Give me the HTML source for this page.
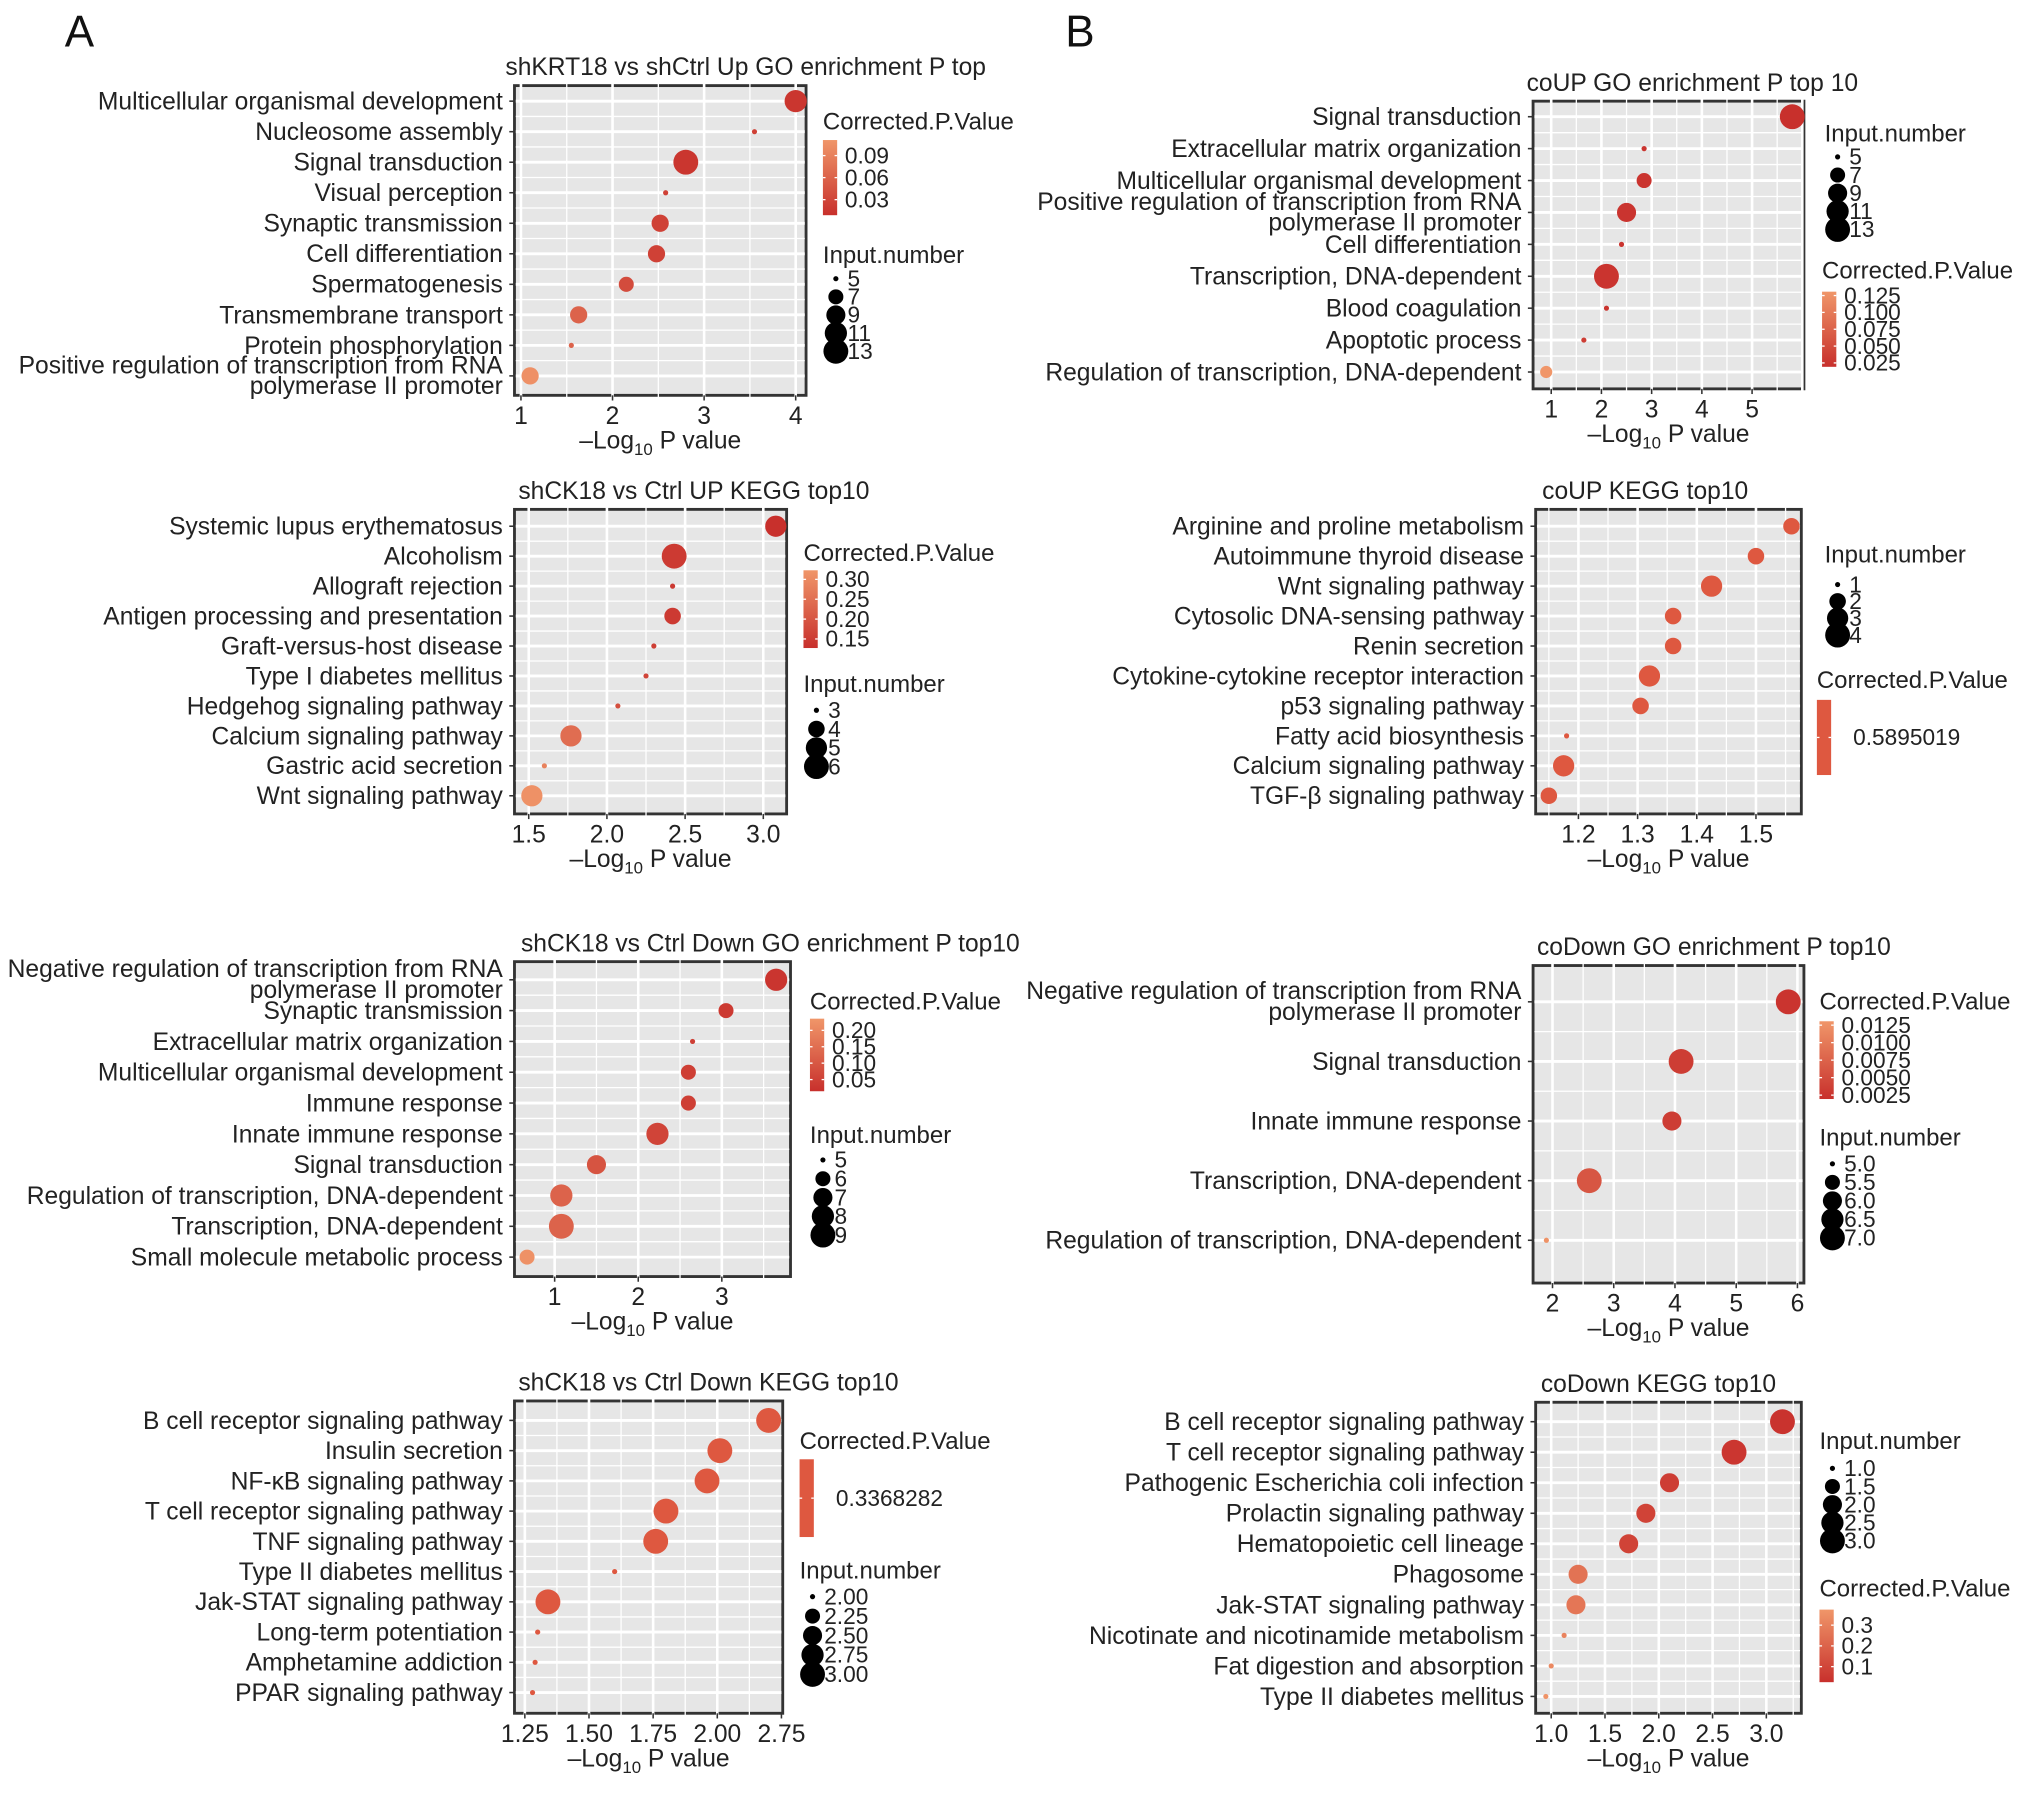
<!DOCTYPE html>
<html><head><meta charset="utf-8">
<style>
html,body{margin:0;padding:0;background:#fff;}
svg{display:block;font-family:"Liberation Sans",Arial,sans-serif;}
</style></head>
<body>
<svg id="fig" width="2032" height="1795" viewBox="0 0 1568 1385" xmlns="http://www.w3.org/2000/svg">
<text x="50" y="36" font-size="34" fill="#111">A</text>
<text x="822" y="36" font-size="34" fill="#111">B</text>
</svg>
<script>
// ---------- DATA ----------
const a1Terms = ["Multicellular organismal development","Nucleosome assembly","Signal transduction","Visual perception","Synaptic transmission","Cell differentiation","Spermatogenesis","Transmembrane transport","Protein phosphorylation","Positive regulation of transcription from RNA|polymerase II promoter"];
const a1X = [4.0,3.55,2.8,2.58,2.52,2.48,2.15,1.63,1.55,1.1];
const a1N = [11,5,13,5,8,8,7,8,5,8];
const a1P = [0.02,0.03,0.02,0.03,0.03,0.03,0.04,0.06,0.06,0.1];

const a2Terms = ["Systemic lupus erythematosus","Alcoholism","Allograft rejection","Antigen processing and presentation","Graft-versus-host disease","Type I diabetes mellitus","Hedgehog signaling pathway","Calcium signaling pathway","Gastric acid secretion","Wnt signaling pathway"];
const a2X = [3.08,2.43,2.42,2.42,2.3,2.25,2.07,1.77,1.6,1.52];
const a2N = [5,6,3,4,3,3,3,5,3,5];
const a2P = [0.12,0.14,0.14,0.14,0.15,0.16,0.18,0.24,0.28,0.31];

const a3Terms = ["Negative regulation of transcription from RNA|polymerase II promoter","Synaptic transmission","Extracellular matrix organization","Multicellular organismal development","Immune response","Innate immune response","Signal transduction","Regulation of transcription, DNA-dependent","Transcription, DNA-dependent","Small molecule metabolic process"];
const a3X = [3.65,3.05,2.65,2.6,2.6,2.23,1.5,1.08,1.08,0.67];
const a3N = [8,6,5,6,6,8,7,8,9,6];
const a3P = [0.03,0.04,0.05,0.05,0.05,0.06,0.09,0.12,0.12,0.21];

const a4Terms = ["B cell receptor signaling pathway","Insulin secretion","NF-\u03baB signaling pathway","T cell receptor signaling pathway","TNF signaling pathway","Type II diabetes mellitus","Jak-STAT signaling pathway","Long-term potentiation","Amphetamine addiction","PPAR signaling pathway"];
const a4X = [2.2,2.01,1.96,1.8,1.76,1.6,1.34,1.3,1.29,1.28];
const a4N = [3,3,3,3,3,2,3,2,2,2];
const a4P = [0.3368,0.3368,0.3368,0.3368,0.3368,0.3368,0.3368,0.3368,0.3368,0.3368];

const b1Terms = ["Signal transduction","Extracellular matrix organization","Multicellular organismal development","Positive regulation of transcription from RNA|polymerase II promoter","Cell differentiation","Transcription, DNA-dependent","Blood coagulation","Apoptotic process","Regulation of transcription, DNA-dependent"];
const b1X = [5.8,2.85,2.85,2.5,2.4,2.1,2.1,1.65,0.9];
const b1N = [13,5,7,9,5,13,5,5,6];
const b1P = [0.01,0.02,0.02,0.02,0.02,0.02,0.02,0.03,0.13];

const b2Terms = ["Arginine and proline metabolism","Autoimmune thyroid disease","Wnt signaling pathway","Cytosolic DNA-sensing pathway","Renin secretion","Cytokine-cytokine receptor interaction","p53 signaling pathway","Fatty acid biosynthesis","Calcium signaling pathway","TGF-\u03b2 signaling pathway"];
const b2X = [1.56,1.5,1.425,1.36,1.36,1.32,1.305,1.18,1.175,1.15];
const b2N = [2,2,3,2,2,3,2,1,3,2];
const b2P = [0.5895,0.5895,0.5895,0.5895,0.5895,0.5895,0.5895,0.5895,0.5895,0.5895];

const b3Terms = ["Negative regulation of transcription from RNA|polymerase II promoter","Signal transduction","Innate immune response","Transcription, DNA-dependent","Regulation of transcription, DNA-dependent"];
const b3X = [5.85,4.1,3.95,2.6,1.9];
const b3N = [7,7,6,7,5];
const b3P = [0.002,0.003,0.003,0.006,0.013];

const b4Terms = ["B cell receptor signaling pathway","T cell receptor signaling pathway","Pathogenic Escherichia coli infection","Prolactin signaling pathway","Hematopoietic cell lineage","Phagosome","Jak-STAT signaling pathway","Nicotinate and nicotinamide metabolism","Fat digestion and absorption","Type II diabetes mellitus"];
const b4X = [3.15,2.7,2.1,1.88,1.72,1.25,1.23,1.12,1.0,0.95];
const b4N = [3,3,2,2,2,2,2,1,1,1];
const b4P = [0.05,0.06,0.08,0.1,0.1,0.25,0.26,0.3,0.32,0.35];

const a1Ticks = [1,2,3,4], a1TickLabels = ["1","2","3","4"];
const a2Ticks = [1.5,2,2.5,3], a2TickLabels = ["1.5","2.0","2.5","3.0"];
const a3Ticks = [1,2,3], a3TickLabels = ["1","2","3"];
const a4Ticks = [1.25,1.5,1.75,2,2.25], a4TickLabels = ["1.25","1.50","1.75","2.00","2.75"];
const b1Ticks = [1,2,3,4,5], b1TickLabels = ["1","2","3","4","5"];
const b2Ticks = [1.2,1.3,1.4,1.5], b2TickLabels = ["1.2","1.3","1.4","1.5"];
const b3Ticks = [2,3,4,5,6], b3TickLabels = ["2","3","4","5","6"];
const b4Ticks = [1,1.5,2,2.5,3], b4TickLabels = ["1.0","1.5","2.0","2.5","3.0"];

const a1SizeLeg = [5,7,9,11,13], a1ColLeg = ["0.09","0.06","0.03"];
const a2SizeLeg = [3,4,5,6], a2ColLeg = ["0.30","0.25","0.20","0.15"];
const a3SizeLeg = [5,6,7,8,9], a3ColLeg = ["0.20","0.15","0.10","0.05"];
const a4SizeLeg = [2.00,2.25,2.50,2.75,3.00], a4SizeLegLabels = ["2.00","2.25","2.50","2.75","3.00"], a4ColLeg = ["0.3368282"];
const b1SizeLeg = [5,7,9,11,13], b1ColLeg = ["0.125","0.100","0.075","0.050","0.025"];
const b2SizeLeg = [1,2,3,4], b2ColLeg = ["0.5895019"];
const b3SizeLeg = [5.0,5.5,6.0,6.5,7.0], b3SizeLegLabels = ["5.0","5.5","6.0","6.5","7.0"], b3ColLeg = ["0.0125","0.0100","0.0075","0.0050","0.0025"];
const b4SizeLeg = [1.0,1.5,2.0,2.5,3.0], b4SizeLegLabels = ["1.0","1.5","2.0","2.5","3.0"], b4ColLeg = ["0.3","0.2","0.1"];

// ---------- DRAWING ----------
const NS = "http://www.w3.org/2000/svg";
const svg = document.getElementById('fig');
function mk(tag, attrs, parent, txt){
  const e = document.createElementNS(NS, tag);
  for (const k in attrs) e.setAttribute(k, attrs[k]);
  if (txt !== undefined) e.textContent = txt;
  (parent||svg).appendChild(e);
  return e;
}
function lerpCol(t){
  t = Math.max(0, Math.min(1, t));
  const lo=[200,48,44], hi=[240,150,105];
  const c = lo.map((v,i)=>Math.round(v+(hi[i]-v)*t));
  return `rgb(${c[0]},${c[1]},${c[2]})`;
}
const FS = 19;

function panel(cfg){
  const g = mk('g', {});
  
  
  const [L,T,R,B] = cfg.box;
  const xs = v => cfg.px0 + (v - cfg.v0) * (cfg.px1 - cfg.px0) / (cfg.v1 - cfg.v0);
  const n = cfg.terms.length;
  const ys = i => n === 1 ? cfg.y0 : cfg.y0 + i * (cfg.y1 - cfg.y0) / (n - 1);
  const nMin = Math.min(...cfg.sizeLeg), nMax = Math.max(...cfg.sizeLeg);
  const rs = v => 2 + 7.6 * Math.sqrt(Math.max(0,(v - nMin)) / (nMax - nMin));
  const col = p => cfg.pRange ? lerpCol((p - cfg.pRange[0]) / (cfg.pRange[1] - cfg.pRange[0])) : 'rgb(222,88,64)';

  const tt = mk('text', {x: cfg.titleX, y: T - 8, 'font-size': FS, fill: '#222'}, g, cfg.title);
  
  
  const bg = mk('rect', {x: L, y: T, width: R - L, height: B - T, fill: '#e6e6e6', stroke: '#333', 'stroke-width': 2.2}, g);
  
  
  const step = cfg.ticks[1] - cfg.ticks[0];
  for (let v = cfg.ticks[0] - step*3; v <= cfg.ticks[cfg.ticks.length-1] + step*3 + 1e-9; v += step/2) {
    const x = xs(v);
    if (x <= L + 1 || x >= R - 1) continue;
    const major = Math.abs(((v - cfg.ticks[0]) / step) - Math.round((v - cfg.ticks[0]) / step)) < 1e-6;
    mk('line', {x1: x, x2: x, y1: T - 1.5, y2: B + 1.5, stroke: '#fff', 'stroke-width': major ? 2 : 1}, g);
  }
  for (let i = 0; i < n; i++) {
    const y = ys(i);
    mk('line', {x1: L + 1, x2: R - 1, y1: y, y2: y, stroke: '#fff', 'stroke-width': 2.2}, g);
    if (i < n - 1) {
      const ym = (ys(i) + ys(i+1)) / 2;
      mk('line', {x1: L + 1, x2: R - 1, y1: ym, y2: ym, stroke: '#fff', 'stroke-width': 1}, g);
    }
  }
  for (let i = 0; i < n; i++) {
    const y = ys(i);
    mk('line', {x1: L - 4, x2: L, y1: y, y2: y, stroke: '#333', 'stroke-width': 1.2}, g);
    const parts = cfg.terms[i].split('|');
    parts.forEach((p, k) => {
      const yy = parts.length === 1 ? y + 6.5 : y + 6.5 + (k === 0 ? -8.5 : 7.5);
      const t = mk('text', {x: L - 9, y: yy, 'font-size': FS, 'text-anchor': 'end', fill: '#222'}, g, p);
      
      
    });
  }
  cfg.ticks.forEach((v, k) => {
    const x = xs(v);
    mk('line', {x1: x, x2: x, y1: B, y2: B + 4, stroke: '#333', 'stroke-width': 1.2}, g);
    const t = mk('text', {x: x, y: B + 22, 'font-size': FS, 'text-anchor': 'middle', fill: '#222'}, g, cfg.tickLabels[k]);
    
    
  });
  const xt = mk('text', {x: (L + R) / 2, y: B + 41, 'font-size': FS, 'text-anchor': 'middle', fill: '#222'}, g);
  
  
  mk('tspan', {}, xt, '\u2013Log');
  mk('tspan', {'font-size': 13, dy: 5}, xt, '10');
  mk('tspan', {dy: -5}, xt, ' P value');
  for (let i = 0; i < n; i++) {
    const c = mk('circle', {cx: xs(cfg.xv[i]), cy: ys(i), r: rs(cfg.nv[i]), fill: col(cfg.pv[i])}, g);
    
    
  }
  cfg.legends.forEach(lg => {
    const lt = mk('text', {x: lg.x, y: lg.y, 'font-size': 18.5, fill: '#222'}, g, lg.type === 'size' ? 'Input.number' : 'Corrected.P.Value');
    
    
    if (lg.type === 'size') {
      cfg.sizeLeg.forEach((v, k) => {
        const cy = lg.y0 + k * lg.step;
        const c = mk('circle', {cx: lg.x + 10, cy: cy, r: rs(v), fill: '#000'}, g);
        
        
        mk('text', {x: lg.x + 19, y: cy + 6, 'font-size': 17.5, fill: '#222'}, g, (cfg.sizeLegLabels || cfg.sizeLeg)[k]);
      });
    } else {
      const id = 'grad' + cfg.name;
      const defs = mk('defs', {}, g);
      const gr = mk('linearGradient', {id: id, x1: 0, y1: 0, x2: 0, y2: 1}, defs);
      if (cfg.pRange) {
        mk('stop', {offset: 0, 'stop-color': lerpCol(1)}, gr);
        mk('stop', {offset: 1, 'stop-color': lerpCol(0)}, gr);
      } else {
        mk('stop', {offset: 0, 'stop-color': 'rgb(222,88,64)'}, gr);
        mk('stop', {offset: 1, 'stop-color': 'rgb(222,88,64)'}, gr);
      }
      const bar = mk('rect', {x: lg.x, y: lg.y0, width: 11, height: lg.h, fill: `url(#${id})`}, g);
      
      
      cfg.colLeg.forEach((s, k) => {
        const yy = cfg.colLeg.length === 1 ? lg.y0 + lg.h / 2 : lg.y0 + lg.pad + k * (lg.h - 2*lg.pad) / (cfg.colLeg.length - 1);
        mk('line', {x1: lg.x, x2: lg.x + 2, y1: yy, y2: yy, stroke: '#fff'}, g);
        mk('line', {x1: lg.x + 9, x2: lg.x + 11, y1: yy, y2: yy, stroke: '#fff'}, g);
        mk('text', {x: lg.x + (cfg.colLeg.length === 1 ? 28 : 17), y: yy + 6, 'font-size': 17.5, fill: '#222'}, g, s);
      });
    }
  });
}

panel({name:'panel-a1', title:'shKRT18 vs shCtrl Up GO enrichment P top', titleX:390, box:[397,66,622,305],
  px0:402, v0:1, px1:614, v1:4, y0:78, y1:290, ticks:a1Ticks, tickLabels:a1TickLabels,
  terms:a1Terms, xv:a1X, nv:a1N, pv:a1P, pRange:[0.015,0.105], sizeLeg:a1SizeLeg, colLeg:a1ColLeg,
  legends:[{type:'color', x:635, y:100, y0:108, h:58, pad:12},{type:'size', x:635, y:203, y0:215, step:14}]});
panel({name:'panel-a2', title:'shCK18 vs Ctrl UP KEGG top10', titleX:400, box:[397,393,607,628],
  px0:408, v0:1.5, px1:589, v1:3.0, y0:406, y1:614, ticks:a2Ticks, tickLabels:a2TickLabels,
  terms:a2Terms, xv:a2X, nv:a2N, pv:a2P, pRange:[0.12,0.32], sizeLeg:a2SizeLeg, colLeg:a2ColLeg,
  legends:[{type:'color', x:620, y:433, y0:440, h:60, pad:7},{type:'size', x:620, y:534, y0:548, step:14.5}]});
panel({name:'panel-a3', title:'shCK18 vs Ctrl Down GO enrichment P top10', titleX:402, box:[397,742,610,985],
  px0:428, v0:1, px1:557, v1:3, y0:756, y1:970, ticks:a3Ticks, tickLabels:a3TickLabels,
  terms:a3Terms, xv:a3X, nv:a3N, pv:a3P, pRange:[0.02,0.22], sizeLeg:a3SizeLeg, colLeg:a3ColLeg,
  legends:[{type:'color', x:625, y:779, y0:786, h:56, pad:9},{type:'size', x:625, y:882, y0:895, step:14.5}]});
panel({name:'panel-a4', title:'shCK18 vs Ctrl Down KEGG top10', titleX:400, box:[397,1081,604,1322],
  px0:405, v0:1.25, px1:603, v1:2.25, y0:1096, y1:1306, ticks:a4Ticks, tickLabels:a4TickLabels,
  terms:a4Terms, xv:a4X, nv:a4N, pv:a4P, pRange:null, sizeLeg:a4SizeLeg, sizeLegLabels:a4SizeLegLabels, colLeg:a4ColLeg,
  legends:[{type:'color', x:617, y:1118, y0:1126, h:60, pad:0},{type:'size', x:617, y:1218, y0:1232, step:15}]});

panel({name:'panel-b1', title:'coUP GO enrichment P top 10', titleX:1178, box:[1183,78,1392,300],
  px0:1197, v0:1, px1:1352, v1:5, y0:90, y1:287, ticks:b1Ticks, tickLabels:b1TickLabels,
  terms:b1Terms, xv:b1X, nv:b1N, pv:b1P, pRange:[0.015,0.13], sizeLeg:b1SizeLeg, colLeg:b1ColLeg,
  legends:[{type:'size', x:1408, y:109, y0:121, step:14},{type:'color', x:1406, y:215, y0:225, h:58, pad:3}]});
panel({name:'panel-b2', title:'coUP KEGG top10', titleX:1190, box:[1185,393,1390,628],
  px0:1218, v0:1.2, px1:1355, v1:1.5, y0:406, y1:614, ticks:b2Ticks, tickLabels:b2TickLabels,
  terms:b2Terms, xv:b2X, nv:b2N, pv:b2P, pRange:null, sizeLeg:b2SizeLeg, colLeg:b2ColLeg,
  legends:[{type:'size', x:1408, y:434, y0:451, step:13},{type:'color', x:1402, y:531, y0:540, h:58, pad:0}]});
panel({name:'panel-b3', title:'coDown GO enrichment P top10', titleX:1186, box:[1183,745,1392,990],
  px0:1198, v0:2, px1:1387, v1:6, y0:773, y1:957, ticks:b3Ticks, tickLabels:b3TickLabels,
  terms:b3Terms, xv:b3X, nv:b3N, pv:b3P, pRange:[0.0015,0.0135], sizeLeg:b3SizeLeg, sizeLegLabels:b3SizeLegLabels, colLeg:b3ColLeg,
  legends:[{type:'color', x:1404, y:779, y0:788, h:60, pad:3},{type:'size', x:1404, y:884, y0:898, step:14.3}]});
panel({name:'panel-b4', title:'coDown KEGG top10', titleX:1189, box:[1185,1082,1390,1322],
  px0:1197, v0:1, px1:1363, v1:3, y0:1097, y1:1309, ticks:b4Ticks, tickLabels:b4TickLabels,
  terms:b4Terms, xv:b4X, nv:b4N, pv:b4P, pRange:[0.04,0.36], sizeLeg:b4SizeLeg, sizeLegLabels:b4SizeLegLabels, colLeg:b4ColLeg,
  legends:[{type:'size', x:1404, y:1118, y0:1133, step:14},{type:'color', x:1404, y:1232, y0:1242, h:56, pad:12}]});
</script>
</body></html>
